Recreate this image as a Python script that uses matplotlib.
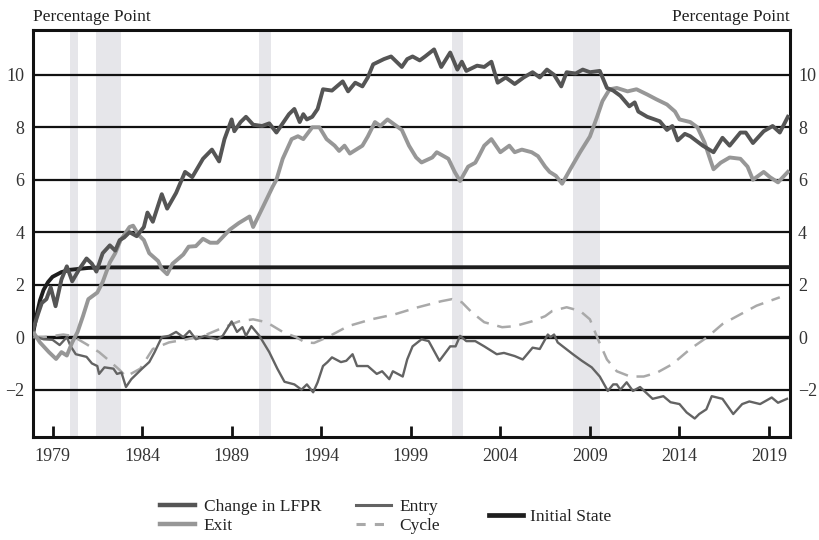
import matplotlib
matplotlib.use("Agg")
import matplotlib.pyplot as plt
from matplotlib.lines import Line2D

plt.rcParams['font.family'] = ['Liberation Serif', 'DejaVu Serif']

# change in LFPR (decimal year, percentage points)
lfpr_t = [1977.92, 1978.2, 1978.4, 1978.66, 1978.9, 1979.17, 1979.5, 1979.8, 1980.1, 1980.5,
          1980.9, 1981.2, 1981.45, 1981.8, 1982.2, 1982.5, 1982.75, 1983.0, 1983.3, 1983.7,
          1984.1, 1984.3, 1984.6, 1985.1, 1985.4, 1985.9, 1986.4, 1986.8, 1987.4, 1987.9,
          1988.3, 1988.6, 1989.0, 1989.15, 1989.5, 1989.8, 1990.2, 1990.7, 1991.1, 1991.5,
          1991.8, 1992.2, 1992.5, 1992.8, 1993.0, 1993.2, 1993.5, 1993.8, 1994.1, 1994.6,
          1995.2, 1995.5, 1995.9, 1996.3, 1996.6, 1996.9, 1997.2, 1997.5, 1997.9, 1998.2,
          1998.5, 1998.8, 1999.1, 1999.5, 1999.8, 2000.3, 2000.7, 2001.2, 2001.6, 2001.85,
          2002.1, 2002.7, 2003.1, 2003.5, 2003.85, 2004.3, 2004.8, 2005.3, 2005.8, 2006.2,
          2006.6, 2007.0, 2007.4, 2007.7, 2008.2, 2008.6, 2009.0, 2009.55, 2009.95, 2010.3,
          2010.7, 2011.2, 2011.5, 2011.7, 2012.2, 2012.9, 2013.3, 2013.6, 2013.9, 2014.3,
          2014.6, 2015.3, 2015.9, 2016.4, 2016.8, 2017.4, 2017.7, 2018.1, 2018.7, 2019.2,
          2019.6, 2020.05]
lfpr_v = [0.3, 0.9, 1.3, 1.45, 1.9, 1.18, 2.2, 2.7, 2.13, 2.6,
          3.0, 2.8, 2.5, 3.2, 3.5, 3.3, 3.7, 3.8, 4.0, 3.85,
          4.2, 4.75, 4.4, 5.45, 4.9, 5.5, 6.3, 6.1, 6.8, 7.15,
          6.7, 7.55, 8.3, 7.85, 8.2, 8.4, 8.1, 8.05, 8.15, 7.8,
          8.1, 8.5, 8.7, 8.2, 8.5, 8.3, 8.4, 8.7, 9.45, 9.4,
          9.75, 9.37, 9.7, 9.56, 9.9, 10.4, 10.5, 10.6, 10.7, 10.5,
          10.3, 10.6, 10.7, 10.55, 10.7, 10.97, 10.3, 10.85, 10.2, 10.5,
          10.15, 10.35, 10.3, 10.5, 9.7, 9.9, 9.65, 9.9, 10.1, 9.9,
          10.2, 10.0, 9.56, 10.1, 10.05, 10.2, 10.1, 10.15, 9.5, 9.4,
          9.2, 8.8, 8.95, 8.6, 8.4, 8.23, 7.9, 8.05, 7.5, 7.75,
          7.66, 7.3, 7.05, 7.6, 7.3, 7.8, 7.8, 7.4, 7.85, 8.05,
          7.8, 8.4]

# exit component
exit_t = [1977.92, 1978.3, 1978.8, 1979.2, 1979.5, 1979.8, 1980.1, 1980.4, 1980.7, 1981.0,
          1981.5, 1981.8, 1982.2, 1982.5, 1982.8, 1983.3, 1983.5, 1983.8, 1984.1, 1984.4,
          1984.9, 1985.1, 1985.4, 1985.7, 1986.3, 1986.6, 1987.0, 1987.4, 1987.8, 1988.2,
          1988.9, 1989.4, 1990.0, 1990.2, 1990.7, 1991.3, 1991.5, 1991.85, 1992.35, 1992.7,
          1993.0, 1993.5, 1993.9, 1994.3, 1994.75, 1995.0, 1995.3, 1995.6, 1996.3, 1996.6,
          1997.0, 1997.3, 1997.7, 1998.1, 1998.5, 1998.9, 1999.3, 1999.6, 2000.2, 2000.45,
          2001.1, 2001.45, 2001.75, 2002.2, 2002.6, 2002.8, 2003.1, 2003.5, 2004.0, 2004.5,
          2004.8, 2005.2, 2005.75, 2006.1, 2006.5, 2006.75, 2007.1, 2007.45, 2007.9, 2008.45,
          2009.0, 2009.4, 2009.7, 2010.1, 2010.5, 2011.1, 2011.6, 2012.2, 2012.7, 2013.3,
          2013.75, 2014.0, 2014.6, 2015.0, 2015.4, 2015.7, 2015.9, 2016.3, 2016.8, 2017.4,
          2017.8, 2018.1, 2018.7, 2019.05, 2019.5, 2020.05]
exit_v = [0.2, -0.2, -0.57, -0.83, -0.57, -0.7, -0.2, 0.2, 0.8, 1.45,
          1.7, 2.1, 2.85, 3.2, 3.7, 4.2, 4.25, 3.9, 3.7, 3.2,
          2.9, 2.6, 2.4, 2.8, 3.15, 3.45, 3.47, 3.75, 3.6, 3.6,
          4.1, 4.35, 4.6, 4.2, 4.9, 5.75, 6.0, 6.8, 7.55, 7.66,
          7.55, 8.0, 8.0, 7.55, 7.3, 7.1, 7.3, 7.0, 7.3, 7.65,
          8.2, 8.05, 8.3, 8.1, 7.9, 7.3, 6.85, 6.66, 6.85, 7.05,
          6.8, 6.3, 5.95, 6.5, 6.65, 6.9, 7.3, 7.55, 7.05, 7.3,
          7.05, 7.15, 7.05, 6.9, 6.5, 6.3, 6.15, 5.85, 6.4, 7.05,
          7.65, 8.4, 9.0, 9.45, 9.5, 9.37, 9.45, 9.25, 9.07, 8.87,
          8.6, 8.3, 8.2, 8.0, 7.42, 6.8, 6.4, 6.65, 6.85, 6.8,
          6.5, 6.0, 6.3, 6.1, 5.9, 6.3]

# entry component
entry_t = [1977.92, 1978.5, 1979.0, 1979.4, 1979.8, 1980.0, 1980.3, 1980.9, 1981.2, 1981.5,
           1981.6, 1981.9, 1982.4, 1982.6, 1982.85, 1983.1, 1983.4, 1983.7, 1984.0, 1984.4,
           1984.7, 1985.1, 1985.5, 1985.9, 1986.3, 1986.65, 1987.0, 1987.5, 1988.2, 1988.5,
           1989.0, 1989.3, 1989.6, 1989.8, 1990.1, 1990.55, 1991.1, 1991.55, 1991.95, 1992.5,
           1992.9, 1993.2, 1993.55, 1993.8, 1994.1, 1994.35, 1994.6, 1995.1, 1995.4, 1995.75,
           1996.0, 1996.6, 1997.1, 1997.4, 1997.8, 1998.0, 1998.55, 1998.8, 1999.1, 1999.6,
           2000.0, 2000.6, 2001.2, 2001.5, 2001.75, 2002.1, 2002.6, 2003.1, 2003.8, 2004.2,
           2004.8, 2005.25, 2005.8, 2006.2, 2006.65, 2006.8, 2007.0, 2007.2, 2008.05, 2008.55,
           2009.1, 2009.55, 2010.0, 2010.3, 2010.5, 2010.7, 2011.05, 2011.4, 2011.8, 2012.5,
           2013.1, 2013.5, 2014.0, 2014.4, 2014.85, 2015.1, 2015.5, 2015.8, 2016.4, 2017.0,
           2017.5, 2017.9, 2018.5, 2019.15, 2019.5, 2020.0]
entry_v = [0.05, -0.08, -0.1, -0.3, 0.0, -0.33, -0.65, -0.75, -1.0, -1.1,
           -1.4, -1.15, -1.2, -1.4, -1.35, -1.9, -1.6, -1.4, -1.2, -0.95,
           -0.57, 0.0, 0.05, 0.2, 0.0, 0.24, -0.08, 0.05, -0.08, 0.05,
           0.6, 0.2, 0.38, 0.05, 0.42, 0.05, -0.57, -1.2, -1.7, -1.8,
           -2.0, -1.8, -2.1, -1.72, -1.1, -0.95, -0.77, -0.95, -0.9, -0.65,
           -1.1, -1.1, -1.4, -1.3, -1.6, -1.3, -1.5, -0.85, -0.35, -0.08,
           -0.15, -0.9, -0.35, -0.35, 0.05, -0.15, -0.15, -0.35, -0.65, -0.6,
           -0.72, -0.85, -0.4, -0.45, 0.1, 0.0, 0.1, -0.2, -0.65, -0.9,
           -1.15, -1.5, -2.05, -1.8, -1.8, -2.0, -1.72, -2.05, -1.9, -2.35,
           -2.25, -2.48, -2.55, -2.87, -3.1, -2.93, -2.75, -2.25, -2.35, -2.93,
           -2.55, -2.45, -2.55, -2.3, -2.5, -2.35]

# cyclical component
cycle_t = [1977.92, 1978.5, 1979.6, 1980.1, 1980.9, 1981.6, 1982.0, 1982.75, 1983.1, 1983.9,
           1984.6, 1985.5, 1986.5, 1987.6, 1988.3, 1989.4, 1990.2, 1990.95, 1991.85, 1992.6,
           1993.1, 1993.6, 1994.35, 1995.5, 1996.8, 1998.1, 1999.4, 2000.7, 2001.3, 2001.85,
           2002.4, 2003.1, 2004.1, 2004.8, 2005.75, 2006.5, 2006.9, 2007.7, 2008.45, 2009.0,
           2009.45, 2009.95, 2010.5, 2011.25, 2012.0, 2012.75, 2013.6, 2014.6, 2015.55, 2016.4,
           2017.4, 2018.3, 2019.6]
cycle_v = [0.0, 0.0, 0.1, 0.05, -0.27, -0.57, -0.8, -1.25, -1.5, -1.2,
           -0.45, -0.2, -0.08, 0.1, 0.3, 0.6, 0.68, 0.57, 0.2, 0.0,
           -0.2, -0.22, 0.0, 0.42, 0.68, 0.87, 1.14, 1.37, 1.45, 1.33,
           0.95, 0.57, 0.38, 0.42, 0.6, 0.8, 1.0, 1.14, 1.0, 0.68,
           -0.08, -0.85, -1.3, -1.5, -1.5, -1.35, -1.03, -0.45, 0.0, 0.5,
           0.87, 1.2, 1.52]

# initial state
init_t = [1977.92, 1978.1, 1978.3, 1978.5, 1978.75, 1979.0, 1979.5, 1980.0, 1981.0, 1982.0, 2020.1]
init_v = [0.15, 0.8, 1.4, 1.8, 2.1, 2.3, 2.48, 2.57, 2.64, 2.66, 2.67]

recessions = [(1979.95, 1980.45), (1981.45, 1982.85), (1990.52, 1991.2),
              (2001.3, 2001.9), (2008.05, 2009.55)]

fig = plt.figure(figsize=(8.2, 5.4), dpi=100)
ax = fig.add_axes([0.040, 0.191, 0.923, 0.753])

for a, b in recessions:
    ax.axvspan(a, b, color='#e6e6ea', lw=0, zorder=0)

for yv in [-2, 2, 4, 6, 8, 10]:
    ax.axhline(yv, color='#111111', lw=1.6, zorder=1)
ax.axhline(0, color='#111111', lw=2.4, zorder=1)

ax.plot(init_t, init_v, color='#1e1e1e', lw=2.8, zorder=3)
ax.plot(cycle_t, cycle_v, color='#a9a9a9', lw=1.8, dashes=(5.5, 3.5), zorder=4)
ax.plot(entry_t, entry_v, color='#636363', lw=1.7, zorder=5)
ax.plot(exit_t, exit_v, color='#979797', lw=2.8, zorder=6)
ax.plot(lfpr_t, lfpr_v, color='#555555', lw=2.8, zorder=7)

ax.set_xlim(1977.9, 2020.15)
ax.set_ylim(-3.8, 11.7)
ax.set_xticks(list(range(1979, 2020, 5)))
ax.set_yticks([-2, 0, 2, 4, 6, 8, 10])
ax.tick_params(axis='x', direction='in', length=8, width=2, labelsize=13, pad=8, colors='#111111')
ax.tick_params(axis='y', length=0, labelsize=13, pad=6, labelright=True, colors='#111111')
ax.tick_params(axis='x', labelcolor='#333333')
ax.tick_params(axis='y', labelcolor='#333333')
for s in ax.spines.values():
    s.set_linewidth(2.2)
    s.set_color('#111111')

fig.text(0.040, 0.968, 'Percentage Point', fontsize=12.5, color='#222222', ha='left', va='center')
fig.text(0.963, 0.968, 'Percentage Point', fontsize=12.5, color='#222222', ha='right', va='center')

h = [Line2D([], [], color='#555555', lw=3.2),
     Line2D([], [], color='#979797', lw=3.2),
     Line2D([], [], color='#636363', lw=2.2),
     Line2D([], [], color='#a9a9a9', lw=2.2, dashes=(3, 3))]
leg = fig.legend(h, ['Change in LFPR', 'Exit', 'Entry', 'Cycle'], ncol=2,
                 loc='center', bbox_to_anchor=(0.366, 0.043), frameon=False,
                 fontsize=12.5, handlelength=2.0, handletextpad=0.5,
                 columnspacing=2.0, labelspacing=0.15)
for t in leg.get_texts():
    t.set_color('#222222')
leg2 = fig.legend([Line2D([], [], color='#1e1e1e', lw=3.4)], ['Initial State'],
                  loc='center', bbox_to_anchor=(0.671, 0.043), frameon=False,
                  fontsize=12.5, handlelength=2.0, handletextpad=0.4)
leg2.get_texts()[0].set_color('#222222')

fig.savefig('out.png', dpi=100)
